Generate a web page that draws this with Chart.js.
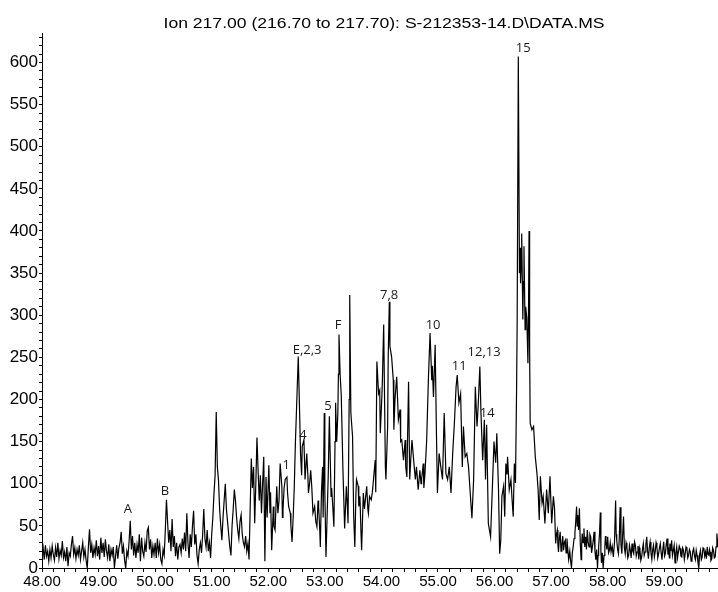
<!DOCTYPE html>
<html>
<head>
<meta charset="utf-8">
<script src="https://cdn.jsdelivr.net/npm/chart.js@4.4.1/dist/chart.umd.min.js"></script>
<style>
html, body { margin: 0; padding: 0; background: #fff; }
canvas { display: block; }
</style>
</head>
<body>
<canvas id="chart" width="718" height="592"></canvas>
<script>
// ion chromatogram, [time (min), abundance]
const scanA = [[48.00,15],[48.02,24],[48.04,10],[48.06,27],[48.08,14],[48.10,20],[48.12,8],[48.14,22],[48.16,12],[48.18,26],
  [48.20,16],[48.22,9],[48.24,24],[48.26,13],[48.28,30],[48.30,11],[48.32,21],[48.34,15],[48.36,32],[48.38,12],
  [48.40,19],[48.42,8],[48.44,25],[48.46,2],[48.48,18],[48.50,14],[48.52,28],[48.54,38],[48.56,16],[48.58,24],
  [48.60,11],[48.62,22],[48.64,15],[48.66,27],[48.68,10],[48.70,20],[48.72,30],[48.74,13],[48.76,22],[48.78,9],
  [48.80,0],[48.82,25],[48.84,46],[48.86,18],[48.88,28],[48.90,12],[48.92,24],[48.94,16],[48.96,33],[48.98,14],
  [49.00,26],[49.02,10],[49.04,36],[49.06,18],[49.08,30],[49.10,13],[49.12,34],[49.14,20],[49.16,12],[49.18,28],
  [49.20,8],[49.22,22],[49.24,15],[49.26,25],[49.28,0],[49.30,14],[49.32,27],[49.34,11],[49.36,24],[49.38,30],
  [49.40,43],[49.42,17],[49.44,26],[49.46,9],[49.48,0],[49.50,20],[49.52,14],[49.54,32],[49.56,56],[49.58,22],
  [49.60,38],[49.62,15],[49.64,30],[49.66,12],[49.68,28],[49.70,18],[49.72,40],[49.74,8],[49.76,36],[49.78,20],
  [49.80,14],[49.82,30],[49.84,19],[49.86,44],[49.88,48],[49.90,22],[49.92,34],[49.94,12],[49.96,26],[49.98,16]];

const scanB = [[50.00,30],[50.02,12],[50.04,35],[50.06,18],[50.08,28],[50.10,10],[50.12,5],[50.14,22],[50.16,15],[50.18,45],
  [50.20,81],[50.22,55],[50.24,30],[50.26,45],[50.28,20],[50.30,58],[50.32,25],[50.34,38],[50.36,14],[50.38,30],
  [50.40,10],[50.42,25],[50.44,28],[50.46,18],[50.48,35],[50.50,22],[50.52,42],[50.54,20],[50.56,65],[50.58,30],
  [50.60,12],[50.62,40],[50.64,25],[50.66,50],[50.68,68],[50.70,28],[50.72,40],[50.74,15],[50.76,5],[50.78,22],
  [50.80,30],[50.82,18],[50.84,40],[50.86,70],[50.88,35],[50.90,25],[50.92,45],[50.94,20],[50.96,30],[50.98,12],
  [51.00,40],[51.02,60],[51.04,88],[51.06,110],[51.08,185],[51.10,120],[51.12,104],[51.14,70],[51.16,50],[51.18,33],
  [51.20,60],[51.22,80],[51.24,100],[51.26,70],[51.28,55],[51.30,40],[51.32,25],[51.34,15],[51.36,50],[51.38,70],
  [51.40,93],[51.42,80],[51.44,60],[51.46,45],[51.48,35],[51.50,55],[51.52,63],[51.54,40],[51.56,30],[51.58,25],
  [51.60,38],[51.62,20],[51.64,29],[51.66,10],[51.68,70],[51.70,130],[51.72,95],[51.74,120],[51.76,53],[51.78,100],
  [51.80,155],[51.82,116],[51.84,80],[51.86,110],[51.88,65],[51.90,100],[51.92,132],[51.94,8],[51.96,108],[51.98,60]];

const scanC = [[52.01,122],[52.03,65],[52.04,90],[52.06,21],[52.09,73],[52.10,50],[52.12,45],[52.15,97],[52.17,65],[52.19,80],
  [52.21,124],[52.24,97],[52.25,60],[52.26,69],[52.28,95],[52.30,105],[52.33,108],[52.34,90],[52.36,73],[52.39,65],
  [52.40,50],[52.42,31],[52.44,60],[52.46,97],[52.48,150],[52.50,190],[52.53,251],[52.55,196],[52.57,136],[52.59,110],
  [52.60,144],[52.63,152],[52.65,105],[52.68,136],[52.70,110],[52.71,89],[52.73,100],[52.75,116],[52.77,95],[52.79,65],
  [52.82,73],[52.84,55],[52.86,49],[52.88,80],[52.89,73],[52.91,45],[52.92,25],[52.94,90],[52.96,120],[52.97,60],
  [52.99,184],[53.00,90],[53.02,13],[53.05,85],[53.06,110],[53.08,180],[53.11,85],[53.12,95],[53.14,73],[53.16,49],
  [53.18,150],[53.19,196],[53.21,150],[53.23,184],[53.24,230],[53.25,277],[53.27,230],[53.29,205],[53.32,116],[53.35,47],
  [53.38,97],[53.40,70],[53.41,53],[53.43,200],[53.44,324],[53.46,184],[53.49,156],[53.51,61],[53.53,25],[53.55,90],
  [53.56,105],[53.59,97],[53.60,73],[53.62,85],[53.64,40],[53.65,21],[53.68,89],[53.70,70],[53.71,77],[53.74,97],
  [53.76,70],[53.77,65],[53.79,85],[53.82,81],[53.84,90],[53.86,105],[53.89,128],[53.90,90],[53.92,245],[53.95,207]];

const scanD = [[53.97,211],[53.98,160],[54.01,207],[54.02,230],[54.04,289],[54.07,120],[54.08,105],[54.11,168],[54.12,250],[54.14,316],
  [54.15,263],[54.18,251],[54.21,223],[54.22,164],[54.24,200],[54.27,227],[54.30,176],[54.33,188],[54.34,150],[54.36,152],
  [54.39,128],[54.42,152],[54.43,120],[54.45,108],[54.48,221],[54.50,105],[54.52,130],[54.54,152],[54.57,128],[54.60,105],
  [54.62,120],[54.65,93],[54.68,116],[54.70,100],[54.71,105],[54.74,124],[54.75,95],[54.77,112],[54.80,152],[54.83,223],
  [54.86,279],[54.89,223],[54.90,240],[54.92,203],[54.95,265],[54.97,172],[54.99,89],[55.02,136],[55.05,120],[55.08,105],
  [55.11,184],[55.14,112],[55.17,105],[55.20,120],[55.23,89],[55.26,136],[55.29,172],[55.32,215],[55.34,229],[55.37,196],
  [55.40,207],[55.43,120],[55.45,168],[55.48,132],[55.51,136],[55.54,120],[55.57,89],[55.60,59],[55.63,105],[55.66,215],
  [55.69,168],[55.71,192],[55.74,239],[55.76,184],[55.79,128],[55.82,176],[55.84,105],[55.86,170],[55.89,53],[55.93,37],
  [55.96,93],[55.99,150]];

const scanE = [[56.02,125],[56.04,160],[56.07,93],[56.09,17],[56.11,33],[56.13,85],[56.16,97],[56.18,61],[56.20,124],[56.22,111],
  [56.23,132],[56.26,93],[56.29,105],[56.31,81],[56.33,61],[56.35,124],[56.37,101],[56.39,215],[56.40,295],[56.42,607],
  [56.44,350],[56.45,380],[56.46,338],[56.47,360],[56.48,397],[56.50,295],[56.51,340],[56.52,382],[56.54,283],[56.55,310],
  [56.57,298],[56.59,243],[56.60,300],[56.61,400],[56.62,260],[56.63,172],[56.66,164],[56.69,168],[56.72,132],[56.75,112],
  [56.77,93],[56.79,57],[56.81,109],[56.84,77],[56.86,85],[56.89,53],[56.92,93],[56.95,65],[56.98,109],[57.01,53],
  [57.04,85],[57.06,71],[57.08,29],[57.095,40],[57.11,45],[57.12,28],[57.13,19],[57.145,35],[57.16,43],[57.175,20],
  [57.19,27],[57.205,38],[57.22,21],[57.235,30],[57.25,33],[57.265,18],[57.28,35],[57.295,22],[57.31,10],[57.33,20],
  [57.345,8],[57.36,0],[57.375,18],[57.39,25],[57.405,35],[57.42,41],[57.435,55],[57.45,73],[57.46,50],[57.47,63],
  [57.485,45],[57.50,71],[57.515,30],[57.53,10],[57.54,28],[57.55,41],[57.565,30],[57.58,47],[57.595,25],[57.61,37],
  [57.625,22],[57.64,45],[57.655,30],[57.67,25],[57.685,40],[57.70,37],[57.715,18],[57.73,25],[57.745,33],[57.76,43],
  [57.775,20],[57.79,10],[57.805,22],[57.82,0],[57.83,15],[57.84,25],[57.855,40],[57.87,66],[57.88,20],[57.89,6],
  [57.905,18],[57.92,0],[57.935,15],[57.95,25],[57.96,38],[57.97,31],[57.985,22]];

const scanF = [[58.00,37],[58.015,18],[58.03,21],[58.045,30],[58.06,19],[58.08,26],[58.10,13],[58.12,30],[58.14,80],[58.15,40],
  [58.16,33],[58.175,22],[58.19,17],[58.205,35],[58.22,72],[58.235,28],[58.25,17],[58.265,40],[58.28,61],[58.295,24],
  [58.31,17],[58.325,30],[58.34,25],[58.355,12],[58.37,15],[58.385,27],[58.40,21],[58.415,12],[58.43,29],[58.445,20],
  [58.46,17],[58.475,31],[58.49,27],[58.505,14],[58.52,19],[58.535,26],[58.55,10],[58.56,24],[58.57,21],[58.585,9],
  [58.60,13],[58.615,22],[58.63,29],[58.645,15],[58.66,19],[58.675,28],[58.69,37],[58.705,20],[58.72,11],[58.735,24],
  [58.75,31],[58.765,18],[58.78,10],[58.795,22],[58.81,27],[58.825,13],[58.84,19],[58.855,30],[58.87,25],[58.885,12],
  [58.90,17],[58.915,24],[58.93,29],[58.945,18],[58.96,10],[58.975,22],[58.99,31],[59.005,14],[59.02,17],[59.035,28],
  [59.05,35],[59.065,16],[59.08,21],[59.09,12],[59.10,29],[59.115,20],[59.13,33],[59.145,15],[59.16,21],[59.175,27],
  [59.19,6],[59.205,18],[59.22,25],[59.235,12],[59.25,19],[59.265,26],[59.28,23],[59.295,14],[59.31,13],[59.325,24],
  [59.34,21],[59.355,10],[59.37,17],[59.385,25],[59.40,23],[59.415,12],[59.43,15],[59.445,22],[59.46,19],[59.475,8],
  [59.49,11],[59.505,20],[59.52,23],[59.535,14],[59.55,10],[59.565,21],[59.58,15],[59.595,7],[59.61,0],[59.625,16],
  [59.64,21],[59.655,10],[59.67,13],[59.685,24],[59.70,23],[59.715,14],[59.73,19],[59.745,11],[59.76,25],[59.775,16],
  [59.79,15],[59.80,22],[59.81,19],[59.825,9],[59.84,11],[59.855,24],[59.87,21],[59.885,12],[59.90,13],[59.915,25],
  [59.93,41],[59.95,25]];

// peak labels written on the trace
const peakNames = ['A', 'B', '1', 'E,2,3', '4', '5', 'F', '7,8', '10', '11', '12,13', '14', '15'];
const peakTimes = [49.52, 50.175, 52.315, 52.686, 52.615, 53.057, 53.234, 54.136, 54.914, 55.374, 55.816, 55.869, 56.506];
const peakLabelY = [70, 91, 122, 258, 157, 192, 288, 324, 288, 239, 256, 184, 617];

const titleText = 'Ion 217.00 (216.70 to 217.70): S-212353-14.D\\DATA.MS';

const xMin = 48, xMax = 59.95;
const yMin = 0, yMax = 635;

const points = [].concat(scanA, scanB, scanC, scanD, scanE, scanF).map(p => ({ x: p[0], y: p[1] }));

const axisFont = 'Liberation Sans, Arial, sans-serif';

const annotate = {
    id: 'annotate',
    afterDraw(chart) {
        const ctx = chart.ctx;
        const x = chart.scales.x;
        const y = chart.scales.y;

        ctx.save();
        ctx.fillStyle = '#000';
        ctx.font = '15px ' + axisFont;
        ctx.textAlign = 'center';
        ctx.textBaseline = 'alphabetic';
        let w = ctx.measureText(titleText).width;
        ctx.translate(384, 28);
        ctx.scale(441 / w, 1);
        ctx.fillText(titleText, 0, 0);
        ctx.restore();

        ctx.save();
        ctx.fillStyle = '#1a1a1a';
        ctx.font = '13px "Open Sans", sans-serif';
        ctx.textAlign = 'center';
        ctx.textBaseline = 'middle';
        for (let i = 0; i < peakNames.length; i++) {
            ctx.fillText(peakNames[i], x.getPixelForValue(peakTimes[i]), y.getPixelForValue(peakLabelY[i]));
        }
        ctx.restore();
    }
};

function isWhole(v, step) {
    let r = v / step;
    return Math.abs(r - Math.round(r)) < 1e-6;
}

new Chart(document.getElementById('chart'), {
    type: 'line',
    data: {
        datasets: [{
            data: points,
            borderColor: '#000',
            borderWidth: 1.2,
            pointRadius: 0,
            tension: 0,
            fill: false
        }]
    },
    options: {
        responsive: false,
        animation: false,
        devicePixelRatio: 1,
        layout: { padding: { top: 33, left: 0, right: 0, bottom: 0 } },
        plugins: {
            legend: { display: false },
            tooltip: { enabled: false },
            title: { display: false }
        },
        scales: {
            x: {
                type: 'linear',
                min: xMin,
                max: xMax,
                border: { display: true, color: '#000', width: 1 },
                grid: { drawOnChartArea: false, drawTicks: true, tickLength: 4, color: '#000' },
                ticks: {
                    stepSize: 0.2,
                    autoSkip: false,
                    includeBounds: false,
                    maxRotation: 0,
                    padding: 1,
                    color: '#000',
                    font: { family: axisFont, size: 15 },
                    callback: v => isWhole(v, 1) ? v.toFixed(2) : ''
                },
                afterFit: s => { s.height = 24; }
            },
            y: {
                min: yMin,
                max: yMax,
                border: { display: true, color: '#000', width: 1 },
                grid: { drawOnChartArea: false, drawTicks: true, tickLength: 3, color: '#000' },
                ticks: {
                    stepSize: 10,
                    autoSkip: false,
                    includeBounds: false,
                    padding: 1,
                    color: '#000',
                    font: { family: axisFont, size: 17 },
                    callback: v => isWhole(v, 50) ? String(v) : ''
                },
                afterFit: s => { s.width = 42; }
            }
        }
    },
    plugins: [annotate]
});
</script>
</body>
</html>
